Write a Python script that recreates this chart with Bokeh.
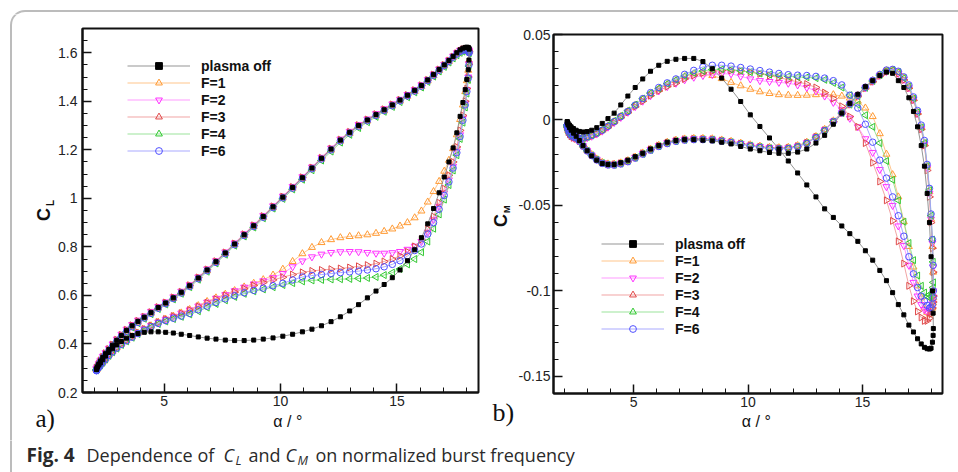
import numpy as np
from bokeh.plotting import figure
from bokeh.layouts import row, column
from bokeh.models import (Range1d, SingleIntervalTicker, CustomJSTickFormatter, Label,
                          Legend, LegendItem, BoxAnnotation, ColumnDataSource)
from bokeh.embed import file_html
from bokeh.resources import INLINE

# ---------------- data ----------------
# angle of attack samples of one stroke (ascending); the down-stroke uses the same angles
ALPHA = [2.10, 2.11, 2.14, 2.20, 2.27, 2.37, 2.49, 2.63, 2.79, 2.97,
         3.17, 3.39, 3.63, 3.88, 4.15, 4.44, 4.75, 5.07, 5.40, 5.74,
         6.10, 6.47, 6.85, 7.23, 7.63, 8.03, 8.44, 8.85, 9.26, 9.68,
         10.10, 10.52, 10.94, 11.35, 11.76, 12.17, 12.57, 12.97, 13.35, 13.73,
         14.10, 14.45, 14.80, 15.13, 15.45, 15.76, 16.05, 16.32, 16.57, 16.81,
         17.03, 17.23, 17.41, 17.57, 17.71, 17.83, 17.93, 18.00, 18.06, 18.09,
         18.10]

SERIES = ["plasma off", "F=1", "F=2", "F=3", "F=4", "F=6"]

# lift coefficient: up-stroke / down-stroke, both listed in ascending alpha order
CL_UP_OFF = [0.295, 0.298, 0.305, 0.317, 0.330, 0.345, 0.360, 0.377, 0.395, 0.415,
             0.435, 0.456, 0.475, 0.493, 0.510, 0.529, 0.550, 0.569, 0.590, 0.613,
             0.640, 0.672, 0.705, 0.739, 0.775, 0.812, 0.850, 0.887, 0.925, 0.965,
             1.005, 1.045, 1.085, 1.125, 1.165, 1.203, 1.240, 1.272, 1.300, 1.323,
             1.345, 1.365, 1.385, 1.405, 1.425, 1.445, 1.465, 1.488, 1.510, 1.531,
             1.550, 1.568, 1.585, 1.600, 1.612, 1.619, 1.622, 1.623, 1.622, 1.619,
             1.615]
CL_DN_OFF = [0.295, 0.297, 0.305, 0.313, 0.322, 0.335, 0.350, 0.365, 0.380, 0.396,
             0.410, 0.424, 0.435, 0.443, 0.448, 0.450, 0.450, 0.448, 0.445, 0.440,
             0.435, 0.429, 0.424, 0.420, 0.416, 0.414, 0.414, 0.416, 0.420, 0.425,
             0.432, 0.440, 0.450, 0.461, 0.475, 0.492, 0.512, 0.536, 0.562, 0.590,
             0.618, 0.645, 0.673, 0.705, 0.743, 0.788, 0.838, 0.895, 0.958, 1.023,
             1.088, 1.150, 1.208, 1.270, 1.338, 1.395, 1.448, 1.490, 1.530, 1.570,
             1.615]
CL_UP_F1 = [0.295, 0.297, 0.305, 0.315, 0.328, 0.343, 0.358, 0.375, 0.393, 0.412,
            0.432, 0.453, 0.472, 0.490, 0.508, 0.527, 0.548, 0.566, 0.588, 0.610,
            0.638, 0.669, 0.702, 0.736, 0.772, 0.809, 0.847, 0.884, 0.922, 0.962,
            1.002, 1.042, 1.082, 1.122, 1.162, 1.199, 1.236, 1.268, 1.296, 1.319,
            1.341, 1.361, 1.381, 1.401, 1.421, 1.441, 1.461, 1.484, 1.506, 1.527,
            1.546, 1.564, 1.581, 1.595, 1.606, 1.612, 1.615, 1.615, 1.612, 1.609,
            1.605]
CL_DN_F1 = [0.295, 0.297, 0.302, 0.309, 0.316, 0.327, 0.340, 0.355, 0.370, 0.385,
            0.400, 0.415, 0.430, 0.445, 0.460, 0.475, 0.490, 0.502, 0.515, 0.528,
            0.542, 0.558, 0.575, 0.590, 0.605, 0.620, 0.635, 0.650, 0.665, 0.684,
            0.708, 0.740, 0.772, 0.798, 0.818, 0.830, 0.838, 0.843, 0.846, 0.850,
            0.856, 0.864, 0.874, 0.886, 0.900, 0.920, 0.948, 0.985, 1.028, 1.070,
            1.112, 1.157, 1.205, 1.262, 1.325, 1.385, 1.440, 1.485, 1.528, 1.568,
            1.605]
CL_UP_F2 = [0.297, 0.300, 0.307, 0.320, 0.333, 0.349, 0.364, 0.382, 0.400, 0.420,
            0.440, 0.461, 0.480, 0.498, 0.515, 0.534, 0.554, 0.573, 0.594, 0.617,
            0.644, 0.676, 0.709, 0.743, 0.779, 0.816, 0.854, 0.891, 0.929, 0.969,
            1.009, 1.049, 1.089, 1.129, 1.169, 1.207, 1.244, 1.276, 1.304, 1.327,
            1.349, 1.369, 1.389, 1.408, 1.428, 1.448, 1.468, 1.490, 1.512, 1.533,
            1.552, 1.570, 1.586, 1.600, 1.610, 1.615, 1.618, 1.618, 1.614, 1.610,
            1.606]
CL_DN_F2 = [0.297, 0.299, 0.303, 0.310, 0.318, 0.329, 0.342, 0.357, 0.372, 0.387,
            0.402, 0.417, 0.432, 0.447, 0.462, 0.476, 0.490, 0.502, 0.514, 0.527,
            0.540, 0.556, 0.572, 0.588, 0.603, 0.619, 0.634, 0.647, 0.660, 0.673,
            0.690, 0.718, 0.742, 0.759, 0.770, 0.777, 0.780, 0.781, 0.780, 0.777,
            0.774, 0.774, 0.776, 0.781, 0.790, 0.803, 0.822, 0.860, 0.912, 0.967,
            1.022, 1.076, 1.132, 1.195, 1.262, 1.330, 1.392, 1.448, 1.500, 1.555,
            1.606]
CL_UP_F3 = [0.298, 0.300, 0.308, 0.320, 0.332, 0.347, 0.362, 0.379, 0.397, 0.417,
            0.437, 0.458, 0.477, 0.495, 0.512, 0.531, 0.552, 0.571, 0.592, 0.615,
            0.642, 0.674, 0.707, 0.741, 0.777, 0.814, 0.852, 0.889, 0.927, 0.967,
            1.007, 1.047, 1.087, 1.127, 1.167, 1.205, 1.242, 1.274, 1.302, 1.325,
            1.347, 1.367, 1.387, 1.406, 1.426, 1.446, 1.466, 1.488, 1.510, 1.531,
            1.550, 1.568, 1.584, 1.598, 1.608, 1.614, 1.616, 1.616, 1.612, 1.608,
            1.604]
CL_DN_F3 = [0.298, 0.300, 0.303, 0.310, 0.318, 0.329, 0.342, 0.357, 0.372, 0.387,
            0.402, 0.417, 0.432, 0.447, 0.462, 0.476, 0.490, 0.503, 0.515, 0.527,
            0.540, 0.555, 0.570, 0.585, 0.600, 0.614, 0.628, 0.641, 0.653, 0.664,
            0.675, 0.686, 0.695, 0.701, 0.705, 0.708, 0.711, 0.715, 0.720, 0.725,
            0.731, 0.740, 0.750, 0.763, 0.780, 0.802, 0.830, 0.874, 0.925, 0.982,
            1.040, 1.095, 1.150, 1.212, 1.280, 1.342, 1.400, 1.452, 1.500, 1.553,
            1.604]
CL_UP_F4 = [0.292, 0.295, 0.302, 0.313, 0.325, 0.340, 0.354, 0.371, 0.389, 0.409,
            0.428, 0.449, 0.468, 0.486, 0.504, 0.523, 0.544, 0.563, 0.584, 0.607,
            0.634, 0.665, 0.698, 0.732, 0.768, 0.805, 0.843, 0.880, 0.918, 0.958,
            0.998, 1.037, 1.077, 1.116, 1.156, 1.193, 1.230, 1.262, 1.290, 1.314,
            1.336, 1.357, 1.377, 1.397, 1.417, 1.437, 1.457, 1.480, 1.502, 1.523,
            1.542, 1.560, 1.577, 1.590, 1.600, 1.605, 1.608, 1.608, 1.605, 1.602,
            1.598]
CL_DN_F4 = [0.292, 0.294, 0.298, 0.305, 0.312, 0.323, 0.336, 0.351, 0.366, 0.381,
            0.396, 0.411, 0.426, 0.441, 0.455, 0.469, 0.482, 0.493, 0.503, 0.512,
            0.522, 0.535, 0.550, 0.565, 0.580, 0.594, 0.607, 0.617, 0.625, 0.634,
            0.643, 0.651, 0.658, 0.662, 0.664, 0.666, 0.667, 0.668, 0.670, 0.672,
            0.676, 0.684, 0.694, 0.709, 0.728, 0.750, 0.778, 0.822, 0.875, 0.934,
            0.995, 1.055, 1.115, 1.178, 1.245, 1.312, 1.375, 1.432, 1.488, 1.545,
            1.598]
CL_UP_F6 = [0.290, 0.293, 0.300, 0.313, 0.326, 0.341, 0.356, 0.373, 0.391, 0.411,
            0.431, 0.452, 0.471, 0.489, 0.507, 0.526, 0.547, 0.566, 0.587, 0.610,
            0.637, 0.669, 0.702, 0.736, 0.772, 0.809, 0.847, 0.884, 0.922, 0.962,
            1.002, 1.042, 1.082, 1.122, 1.162, 1.200, 1.237, 1.269, 1.297, 1.320,
            1.342, 1.362, 1.382, 1.402, 1.422, 1.442, 1.462, 1.485, 1.507, 1.528,
            1.547, 1.565, 1.582, 1.595, 1.605, 1.610, 1.612, 1.612, 1.608, 1.604,
            1.600]
CL_DN_F6 = [0.290, 0.292, 0.297, 0.304, 0.312, 0.324, 0.337, 0.352, 0.367, 0.383,
            0.398, 0.413, 0.428, 0.443, 0.457, 0.471, 0.485, 0.496, 0.506, 0.515,
            0.526, 0.541, 0.556, 0.571, 0.586, 0.599, 0.611, 0.621, 0.630, 0.640,
            0.650, 0.664, 0.676, 0.682, 0.686, 0.690, 0.694, 0.697, 0.700, 0.705,
            0.710, 0.718, 0.728, 0.743, 0.762, 0.785, 0.812, 0.853, 0.900, 0.955,
            1.012, 1.068, 1.125, 1.188, 1.255, 1.322, 1.385, 1.440, 1.495, 1.550,
            1.600]

# pitching-moment coefficient: up-stroke / down-stroke, ascending alpha order
CM_UP_OFF = [-0.001, -0.0013, -0.002, -0.003, -0.004, -0.005, -0.006, -0.0067, -0.007, -0.0068,
             -0.006, -0.0045, -0.002, 0.0008, 0.004, 0.0088, 0.014, 0.019, 0.024, 0.0285,
             0.032, 0.0343, 0.0355, 0.036, 0.036, 0.0342, 0.030, 0.0245, 0.018, 0.0108,
             0.003, -0.0038, -0.0105, -0.017, -0.024, -0.031, -0.038, -0.045, -0.052, -0.057,
             -0.062, -0.0665, -0.071, -0.0765, -0.082, -0.088, -0.094, -0.101, -0.108, -0.114,
             -0.120, -0.124, -0.128, -0.131, -0.133, -0.1338, -0.134, -0.1335, -0.130, -0.126,
             -0.122]
CM_DN_OFF = [-0.001, -0.0018, -0.003, -0.0045, -0.006, -0.0077, -0.0095, -0.012, -0.015, -0.018,
             -0.021, -0.0235, -0.0255, -0.026, -0.026, -0.025, -0.0235, -0.0215, -0.0195, -0.017,
             -0.015, -0.013, -0.012, -0.0115, -0.0115, -0.0118, -0.0122, -0.013, -0.014, -0.0155,
             -0.017, -0.018, -0.019, -0.0195, -0.0195, -0.0188, -0.017, -0.0135, -0.009, -0.0025,
             0.004, 0.0097, 0.015, 0.0195, 0.023, 0.026, 0.028, 0.0273, 0.023, 0.019,
             0.013, 0.005, -0.004, -0.015, -0.027, -0.043, -0.060, -0.080, -0.100, -0.113,
             -0.122]
CM_UP_F1 = [-0.003, -0.0042, -0.006, -0.0077, -0.009, -0.010, -0.0105, -0.0107, -0.0105, -0.0099,
            -0.009, -0.0077, -0.006, -0.0037, -0.001, 0.002, 0.005, 0.0085, 0.012, 0.0152,
            0.018, 0.0207, 0.023, 0.0253, 0.027, 0.027, 0.026, 0.0242, 0.022, 0.020,
            0.018, 0.0165, 0.0155, 0.0148, 0.0145, 0.0144, 0.0145, 0.0148, 0.015, 0.0148,
            0.014, 0.0128, 0.011, 0.007, 0.002, -0.008, -0.020, -0.032, -0.045, -0.0595,
            -0.074, -0.086, -0.097, -0.104, -0.110, -0.1125, -0.1135, -0.1125, -0.110, -0.107,
            -0.104]
CM_DN_F1 = [-0.003, -0.0036, -0.0045, -0.0055, -0.0065, -0.0078, -0.0095, -0.012, -0.0148, -0.0177,
            -0.0203, -0.0228, -0.0248, -0.0257, -0.0258, -0.0251, -0.0238, -0.0217, -0.0193, -0.017,
            -0.0148, -0.013, -0.0118, -0.0111, -0.0108, -0.0108, -0.011, -0.0117, -0.0125, -0.0135,
            -0.0145, -0.0153, -0.016, -0.0162, -0.016, -0.015, -0.013, -0.0097, -0.0055, -0.0005,
            0.0045, 0.0095, 0.0145, 0.019, 0.023, 0.0264, 0.0288, 0.0291, 0.0278, 0.0245,
            0.0195, 0.0125, 0.0045, -0.0045, -0.0135, -0.027, -0.042, -0.058, -0.074, -0.089,
            -0.104]
CM_UP_F2 = [-0.004, -0.0055, -0.007, -0.0083, -0.0095, -0.0104, -0.011, -0.0112, -0.011, -0.0104,
            -0.0095, -0.0082, -0.0065, -0.0042, -0.0015, 0.0015, 0.0045, 0.0078, 0.011, 0.0142,
            0.017, 0.0195, 0.0215, 0.0235, 0.025, 0.026, 0.0265, 0.027, 0.027, 0.0256,
            0.024, 0.023, 0.0225, 0.022, 0.0215, 0.0205, 0.019, 0.017, 0.014, 0.0103,
            0.006, 0.001, -0.004, -0.011, -0.019, -0.029, -0.039, -0.050, -0.062, -0.0735,
            -0.085, -0.095, -0.103, -0.108, -0.111, -0.112, -0.112, -0.110, -0.107, -0.1035,
            -0.100]
CM_DN_F2 = [-0.004, -0.0044, -0.005, -0.006, -0.007, -0.0083, -0.0098, -0.0123, -0.015, -0.0178,
            -0.0205, -0.023, -0.025, -0.0259, -0.026, -0.0253, -0.024, -0.0219, -0.0195, -0.0172,
            -0.015, -0.0133, -0.012, -0.0113, -0.011, -0.011, -0.0112, -0.0119, -0.0128, -0.0138,
            -0.0148, -0.0156, -0.0162, -0.0164, -0.0163, -0.0153, -0.0133, -0.0099, -0.0058, -0.0008,
            0.0042, 0.0092, 0.0142, 0.0188, 0.0226, 0.026, 0.0284, 0.0286, 0.0272, 0.0237,
            0.0188, 0.012, 0.0038, -0.0052, -0.0145, -0.028, -0.043, -0.058, -0.072, -0.086,
            -0.100]
CM_UP_F3 = [-0.004, -0.0055, -0.007, -0.0083, -0.0095, -0.0104, -0.011, -0.0112, -0.011, -0.0104,
            -0.0095, -0.0082, -0.0065, -0.0042, -0.0015, 0.0015, 0.0045, 0.0078, 0.011, 0.0142,
            0.017, 0.0195, 0.0215, 0.024, 0.026, 0.0275, 0.0285, 0.029, 0.029, 0.0287,
            0.028, 0.027, 0.026, 0.0248, 0.0235, 0.0223, 0.021, 0.019, 0.016, 0.0125,
            0.008, 0.002, -0.004, -0.0135, -0.025, -0.036, -0.047, -0.059, -0.071, -0.084,
            -0.097, -0.106, -0.112, -0.1155, -0.1175, -0.1175, -0.116, -0.1135, -0.110, -0.1065,
            -0.103]
CM_DN_F3 = [-0.004, -0.0044, -0.005, -0.006, -0.007, -0.0083, -0.0098, -0.0123, -0.015, -0.0178,
            -0.0205, -0.023, -0.025, -0.0259, -0.026, -0.0253, -0.024, -0.0219, -0.0195, -0.0172,
            -0.015, -0.0133, -0.012, -0.0113, -0.011, -0.0111, -0.0113, -0.012, -0.0128, -0.0138,
            -0.0148, -0.0157, -0.0163, -0.0165, -0.0163, -0.0153, -0.0133, -0.0099, -0.006, -0.001,
            0.004, 0.009, 0.014, 0.0186, 0.0224, 0.0258, 0.0282, 0.0284, 0.027, 0.0234,
            0.0186, 0.0115, 0.0035, -0.0055, -0.015, -0.0295, -0.045, -0.060, -0.075, -0.089,
            -0.103]
CM_UP_F4 = [-0.003, -0.0042, -0.006, -0.0077, -0.009, -0.010, -0.0105, -0.0107, -0.0105, -0.0099,
            -0.009, -0.0075, -0.0055, -0.0031, -0.0005, 0.0025, 0.0055, 0.009, 0.0125, 0.0157,
            0.0185, 0.0212, 0.0235, 0.0257, 0.0275, 0.0287, 0.0295, 0.0297, 0.0295, 0.0288,
            0.028, 0.0272, 0.0265, 0.026, 0.0255, 0.0252, 0.025, 0.0245, 0.0235, 0.0217,
            0.019, 0.0145, 0.009, 0.0028, -0.004, -0.0135, -0.024, -0.035, -0.047, -0.0595,
            -0.072, -0.082, -0.091, -0.097, -0.101, -0.103, -0.104, -0.103, -0.101, -0.098,
            -0.095]
CM_DN_F4 = [-0.003, -0.0036, -0.0045, -0.0056, -0.0068, -0.0081, -0.0097, -0.0123, -0.0152, -0.018,
            -0.0207, -0.0232, -0.0252, -0.0261, -0.0262, -0.0255, -0.0242, -0.0221, -0.0198, -0.0175,
            -0.0153, -0.0136, -0.0123, -0.0116, -0.0113, -0.0113, -0.0115, -0.0122, -0.013, -0.014,
            -0.015, -0.0158, -0.0165, -0.0167, -0.0165, -0.0155, -0.0135, -0.0101, -0.006, -0.001,
            0.004, 0.009, 0.014, 0.0188, 0.0228, 0.0262, 0.0288, 0.0292, 0.028, 0.0245,
            0.0195, 0.0125, 0.0045, -0.0043, -0.0135, -0.027, -0.041, -0.056, -0.070, -0.083,
            -0.095]
CM_UP_F6 = [-0.003, -0.0042, -0.006, -0.0077, -0.009, -0.010, -0.0105, -0.0107, -0.0105, -0.0099,
            -0.009, -0.0077, -0.006, -0.0037, -0.001, 0.002, 0.005, 0.0087, 0.0125, 0.016,
            0.019, 0.0217, 0.024, 0.0267, 0.029, 0.031, 0.032, 0.032, 0.0315, 0.0307,
            0.0298, 0.0289, 0.028, 0.0272, 0.0265, 0.0262, 0.026, 0.0255, 0.0245, 0.023,
            0.0205, 0.0145, 0.007, -0.0025, -0.013, -0.0235, -0.034, -0.045, -0.056, -0.068,
            -0.080, -0.090, -0.098, -0.103, -0.106, -0.1085, -0.110, -0.1095, -0.108, -0.104,
            -0.100]
CM_DN_F6 = [-0.003, -0.0036, -0.0045, -0.0056, -0.0068, -0.0082, -0.0098, -0.0124, -0.0153, -0.0181,
            -0.0208, -0.0234, -0.0254, -0.0263, -0.0264, -0.0257, -0.0244, -0.0223, -0.020, -0.0177,
            -0.0155, -0.0138, -0.0125, -0.0118, -0.0115, -0.0115, -0.0117, -0.0124, -0.0132, -0.0142,
            -0.0152, -0.016, -0.0167, -0.0169, -0.0167, -0.0157, -0.0137, -0.0103, -0.0062, -0.001,
            0.0042, 0.0095, 0.0145, 0.0192, 0.0232, 0.0266, 0.0292, 0.0296, 0.0285, 0.0252,
            0.0205, 0.0135, 0.0055, -0.003, -0.012, -0.026, -0.040, -0.055, -0.070, -0.085,
            -0.100]

CL_UP = dict(zip(SERIES, [CL_UP_OFF, CL_UP_F1, CL_UP_F2, CL_UP_F3, CL_UP_F4, CL_UP_F6]))
CL_DN = dict(zip(SERIES, [CL_DN_OFF, CL_DN_F1, CL_DN_F2, CL_DN_F3, CL_DN_F4, CL_DN_F6]))
CM_UP = dict(zip(SERIES, [CM_UP_OFF, CM_UP_F1, CM_UP_F2, CM_UP_F3, CM_UP_F4, CM_UP_F6]))
CM_DN = dict(zip(SERIES, [CM_DN_OFF, CM_DN_F1, CM_DN_F2, CM_DN_F3, CM_DN_F4, CM_DN_F6]))

# ---------------- styles ----------------
STYLE = {
    "plasma off": dict(marker="square", color="#000000", line="#8a8a8a", fill=True, size=4, angle=0.0),
    "F=1": dict(marker="triangle", color="#ff9a33", line="#ffbf80", fill=False, size=7, angle=0.0),
    "F=2": dict(marker="inverted_triangle", color="#ff30ff", line="#ff90ff", fill=False, size=7, angle=0.0),
    "F=3": dict(marker="triangle", color="#e04848", line="#f09a9a", fill=False, size=7, angle=-np.pi / 2),
    "F=4": dict(marker="triangle", color="#30c830", line="#90e090", fill=False, size=7, angle=np.pi / 2),
    "F=6": dict(marker="circle", color="#5050ff", line="#a0a0ff", fill=False, size=6.5, angle=0.0),
}
DRAW_ORDER = ["F=1", "F=2", "F=3", "F=4", "F=6", "plasma off"]

# ---------------- page geometry (pixels) ----------------
G1 = dict(page_left=55, page_top=14, w=433, h=398, fl=81, fr=478, ft=28, fb=392, xr=(1.5, 18.5), yr=(0.2, 1.7))
G2 = dict(page_left=515, page_top=14, w=443, h=398, fl=550, fr=942, ft=34, fb=393, xr=(1.5, 18.5), yr=(-0.16, 0.05))


def loop(up, dn):
    n = min(len(ALPHA), len(up), len(dn))
    a = ALPHA[:n]
    return a + a[::-1][1:], up[:n] + dn[:n][::-1][1:]


def make_panel(g, yint, yminor, up, dn, legend_xy, ystandoff):
    p = figure(width=g["w"], height=g["h"], x_range=Range1d(*g["xr"]), y_range=Range1d(*g["yr"]),
               output_backend="svg", toolbar_location=None,
               min_border_left=g["fl"] - g["page_left"], min_border_right=g["page_left"] + g["w"] - g["fr"],
               min_border_top=g["ft"] - g["page_top"], min_border_bottom=g["page_top"] + g["h"] - g["fb"])
    p.xgrid.visible = False
    p.ygrid.visible = False
    p.outline_line_color = "#111111"
    p.outline_line_width = 2
    p.background_fill_color = "white"
    p.border_fill_color = "white"
    p.xaxis[0].ticker = SingleIntervalTicker(interval=5, num_minor_ticks=5)
    p.yaxis[0].ticker = SingleIntervalTicker(interval=yint, num_minor_ticks=yminor)
    for ax in (p.xaxis[0], p.yaxis[0]):
        ax.major_tick_in = 9
        ax.major_tick_out = 0
        ax.minor_tick_in = 5
        ax.minor_tick_out = 0
        ax.major_tick_line_color = "#111111"
        ax.major_tick_line_width = 1.5
        ax.minor_tick_line_color = "#111111"
        ax.minor_tick_line_width = 1
        ax.axis_line_color = "#111111"
        ax.axis_line_width = 2
        ax.major_label_text_font = "Liberation Sans"
        ax.major_label_text_font_size = "14px"
        ax.major_label_text_color = "#222222"
        ax.formatter = CustomJSTickFormatter(code="return String(Number(tick.toFixed(3)));")
    p.xaxis[0].major_label_standoff = 3
    p.yaxis[0].major_label_standoff = ystandoff

    rends = {}
    for name in DRAW_ORDER:
        st = STYLE[name]
        xs, ys = loop(up[name], dn[name])
        src = ColumnDataSource(dict(x=xs, y=ys))
        lr = p.line("x", "y", source=src, line_color=st["line"], line_width=1, line_alpha=0.9)
        sr = p.scatter("x", "y", source=src, marker=st["marker"], size=st["size"], angle=st["angle"],
                       line_color=st["color"], line_width=1,
                       fill_color=st["color"] if st["fill"] else None)
        rends[name] = (lr, sr)

    items = [LegendItem(label=n, renderers=list(rends[n])) for n in SERIES]
    leg = Legend(items=items, location=legend_xy, glyph_width=63, glyph_height=17, label_height=17,
                 label_standoff=11, spacing=0, padding=0, margin=0,
                 border_line_alpha=0, background_fill_alpha=0,
                 label_text_font="Liberation Sans", label_text_font_style="bold",
                 label_text_font_size="14px", label_text_color="#111111")
    p.add_layout(leg)
    return p


p1 = make_panel(G1, 0.2, 4, CL_UP, CL_DN, (45, 233), 5)
p2 = make_panel(G2, 0.05, 5, CM_UP, CM_DN, (48, 56), 3)


# ---------------- decoration strips (frame == canvas, coordinates in pixels) ----------------
def strip(x0, y0, w, h):
    f = figure(width=w, height=h, x_range=Range1d(0, w), y_range=Range1d(0, h),
               x_axis_type=None, y_axis_type=None, output_backend="svg", toolbar_location=None,
               min_border=0, outline_line_color=None)
    f.background_fill_color = "white"
    f.border_fill_color = "white"
    return f, (x0, y0, w, h)


def put(s, px, py, text, size, rotated=False, align="left", **kw):
    """px/py: page position of the text baseline (start or centre along the text)."""
    f, (x0, y0, w, h) = s
    shift = 0.35 * size  # distance from the baseline to the middle of the text box
    if rotated:
        ax, ay, ang = px - shift, py, np.pi / 2
    else:
        ax, ay, ang = px, py - shift, 0.0
    f.add_layout(Label(x=ax - x0, y=y0 + h - ay, text=text, angle=ang, text_align=align,
                       text_baseline="middle", text_font_size=f"{size}px", **kw))


def frame_border(s):
    f, (x0, y0, w, h) = s
    f.add_layout(BoxAnnotation(left=10.5 - x0, top=y0 + h - 10.5, right=4000, bottom=-4000,
                               border_radius=14, fill_alpha=0, line_color="#222222", line_width=2))


TOP = strip(0, 0, 958, 14)
SL = strip(0, 14, 55, 426)
SM = strip(488, 14, 27, 426)
B1 = strip(55, 412, 433, 28)
B2 = strip(515, 412, 443, 28)
CAP = strip(0, 440, 958, 32)
for s in (TOP, SL, CAP):
    frame_border(s)

sans = dict(text_font="Liberation Sans", text_color="#111111")
serif = dict(text_font="Liberation Serif", text_color="#111111")
# panel a titles
put(SL, 50, 214, "C", 18, rotated=True, align="center", text_font_style="bold", **sans)
put(SL, 53.5, 205.5, "L", 10, rotated=True, align="left", text_font_style="bold", **sans)
put(SL, 35, 427, "a)", 25, **serif)
put(B1, 279.5, 427, "α / °", 16, align="center", **sans)
# panel b titles
put(SM, 507, 220, "C", 18, rotated=True, align="center", text_font_style="bold", **sans)
put(SM, 509.5, 212.5, "M", 9, rotated=True, align="left", text_font_style="bold", **sans)
put(SM, 492, 421, "b)", 26, **serif)
put(B2, 746, 427, "α / °", 16, align="center", **sans)

# caption
CAPTION = [("Fig. 4", 26, 461, "bold", 19), ("Dependence of", 86, 461, "normal", 18),
           ("C", 223, 461, "italic", 18), ("L", 235, 464.5, "italic", 12.5),
           ("and", 248, 461, "normal", 18), ("C", 285, 461, "italic", 18),
           ("M", 297, 464.5, "italic", 12.5), ("on normalized burst frequency", 315, 461, "normal", 18)]
for txt, px, py, style, size in CAPTION:
    put(CAP, px, py, txt, size, text_font="Open Sans", text_font_style=style, text_color="#2a2a2a")

layout = column(TOP[0],
                row(SL[0], column(p1, B1[0]), SM[0], column(p2, B2[0])),
                CAP[0])
open("out.html", "w").write(file_html(layout, INLINE))
